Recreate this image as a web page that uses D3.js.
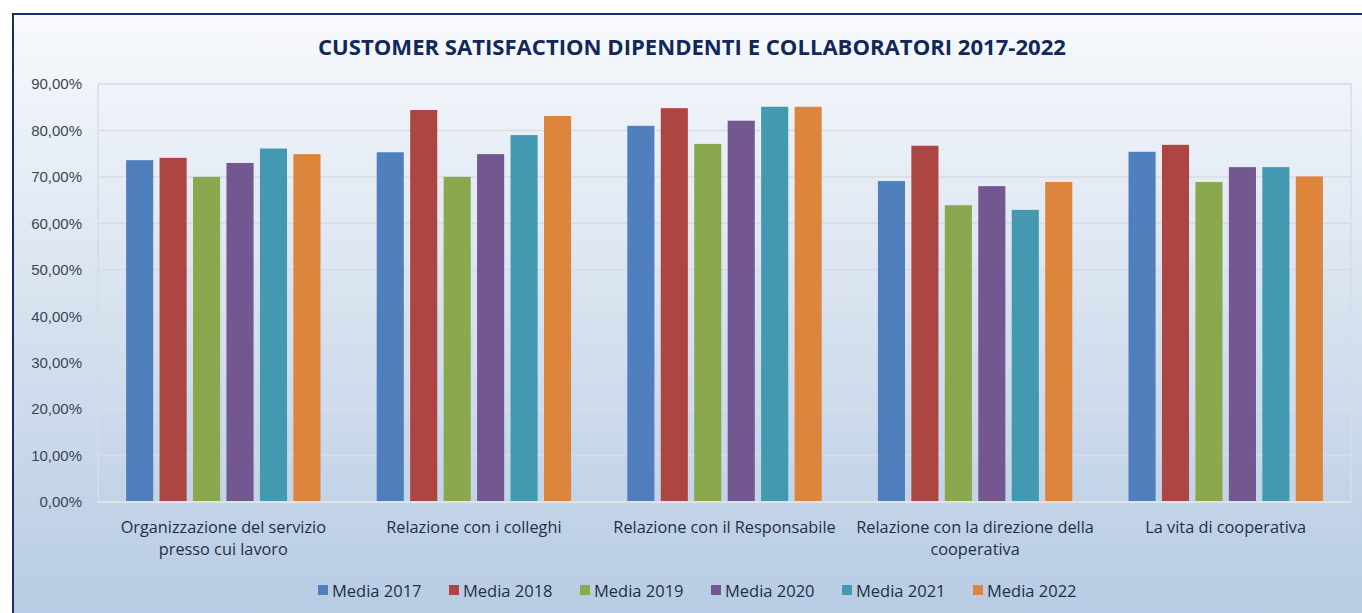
<!DOCTYPE html>
<html>
<head>
<meta charset="utf-8">
<script src="https://cdn.jsdelivr.net/npm/d3@7"></script>
<style>
  html, body { margin: 0; padding: 0; background: #fff; }
  svg { display: block; font-family: "Open Sans", "Noto Sans", sans-serif; }
  .grid line { stroke: #d9dde3; stroke-width: 1.5; }
  .ytick text { fill: #3b4655; font-size: 15px; }
  .xcat text { fill: #1f2f47; font-size: 16.3px; }
  .legend text { fill: #1f2f47; font-size: 16.5px; }
</style>
</head>
<body>
<svg id="chart" width="1362" height="613"></svg>
<script>
// data
var categories = [
    ["Organizzazione del servizio", "presso cui lavoro"],
    ["Relazione con i colleghi"],
    ["Relazione con il Responsabile"],
    ["Relazione con la direzione della", "cooperativa"],
    ["La vita di cooperativa"]
];
var seriesNames = ["Media 2017", "Media 2018", "Media 2019", "Media 2020", "Media 2021", "Media 2022"];
var media2017 = [0.736, 0.753, 0.810, 0.691, 0.754];
var media2018 = [0.741, 0.844, 0.848, 0.767, 0.769];
var media2019 = [0.700, 0.700, 0.771, 0.639, 0.689];
var media2020 = [0.730, 0.749, 0.821, 0.680, 0.721];
var media2021 = [0.761, 0.790, 0.851, 0.629, 0.721];
var media2022 = [0.749, 0.831, 0.851, 0.689, 0.701];
var seriesValues = [media2017, media2018, media2019, media2020, media2021, media2022];
var yTicks = [0, 0.1, 0.2, 0.3, 0.4, 0.5, 0.6, 0.7, 0.8, 0.9];
var colors = ["#4f7fbc", "#ad4643", "#8aa84d", "#735790", "#4299b0", "#dd843d"];

var svg = d3.select("#chart");
var plot = { left: 98, right: 1351, top: 84, bottom: 502 };

// background frame with vertical gradient
var defs = svg.append("defs");
var grad = defs.append("linearGradient").attr("id", "bg")
    .attr("x1", 0).attr("y1", 0).attr("x2", 0).attr("y2", 1);
grad.append("stop").attr("offset", "0%").attr("stop-color", "#f8fafd");
grad.append("stop").attr("offset", "45%").attr("stop-color", "#d9e3f0");
grad.append("stop").attr("offset", "100%").attr("stop-color", "#b5cae3");

svg.append("rect")
    .attr("x", 13).attr("y", 14)
    .attr("width", 1380).attr("height", 620)
    .attr("fill", "url(#bg)")
    .attr("stroke", "#1b2f63").attr("stroke-width", 2);

// title
svg.append("text")
    .attr("x", 692).attr("y", 55)
    .attr("text-anchor", "middle")
    .attr("font-weight", "bold")
    .attr("font-size", 22)
    .attr("fill", "#12285a")
    .attr("textLength", 748)
    .attr("lengthAdjust", "spacingAndGlyphs")
    .text("CUSTOMER SATISFACTION DIPENDENTI E COLLABORATORI 2017-2022");

// scales
var y = d3.scaleLinear().domain([0, 0.9]).range([plot.bottom, plot.top]);
var x0 = d3.scaleBand().domain(d3.range(categories.length)).range([plot.left, plot.right]);
var x1 = d3.scaleBand().domain(d3.range(seriesNames.length)).range([0, x0.bandwidth()])
    .paddingInner(0.19).paddingOuter(0.84);

var fmt = function (v) {
    return d3.format(".2f")(v * 100).replace(".", ",") + "%";
};

// gridlines
var grid = svg.append("g").attr("class", "grid");
grid.selectAll("line").data(yTicks.slice(1)).join("line")
    .attr("x1", plot.left).attr("x2", plot.right)
    .attr("y1", function (d) { return y(d); })
    .attr("y2", function (d) { return y(d); });
// plot area border
svg.append("rect")
    .attr("x", plot.left).attr("y", plot.top)
    .attr("width", plot.right - plot.left).attr("height", plot.bottom - plot.top)
    .attr("fill", "none").attr("stroke", "#d9dde3").attr("stroke-width", 1.5);

// y axis labels
var yAxis = d3.axisLeft(y).tickValues(yTicks).tickFormat(fmt).tickSize(0).tickPadding(16);
var yg = svg.append("g").attr("class", "ytick")
    .attr("transform", "translate(" + plot.left + ",0)")
    .call(yAxis);
yg.select(".domain").remove();
yg.selectAll("text").attr("font-family", null).attr("font-size", null);

// bars
var groups = svg.append("g").selectAll("g").data(categories).join("g")
    .attr("transform", function (d, i) { return "translate(" + x0(i) + ",0)"; });
groups.selectAll("rect")
    .data(function (d, i) {
        return seriesValues.map(function (s, j) { return { s: j, v: s[i] }; });
    })
    .join("rect")
    .attr("x", function (d) { return x1(d.s); })
    .attr("width", x1.bandwidth())
    .attr("y", function (d) { return y(d.v); })
    .attr("height", function (d) { return y(0) - y(d.v); })
    .attr("fill", function (d) { return colors[d.s]; });

// bottom axis line
svg.append("line")
    .attr("x1", plot.left).attr("x2", plot.right)
    .attr("y1", plot.bottom).attr("y2", plot.bottom)
    .attr("stroke", "#dfe3ea").attr("stroke-width", 2);

// category labels
var xcat = svg.append("g").attr("class", "xcat");
categories.forEach(function (lines, i) {
    var t = xcat.append("text")
        .attr("x", x0(i) + x0.bandwidth() / 2)
        .attr("y", 533)
        .attr("text-anchor", "middle");
    lines.forEach(function (line, k) {
        t.append("tspan")
            .attr("x", x0(i) + x0.bandwidth() / 2)
            .attr("dy", k === 0 ? 0 : 22)
            .text(line);
    });
});

// legend
var legendX = d3.scaleBand().domain(d3.range(seriesNames.length)).range([318, 1104]);
var legend = svg.append("g").attr("class", "legend");
var item = legend.selectAll("g").data(seriesNames).join("g")
    .attr("transform", function (d, i) { return "translate(" + legendX(i) + ",590)"; });
item.append("rect")
    .attr("x", 0).attr("y", -5)
    .attr("width", 10).attr("height", 10)
    .attr("fill", function (d, i) { return colors[i]; });
item.append("text")
    .attr("x", 14).attr("y", 0)
    .attr("dominant-baseline", "central")
    .text(function (d) { return d; });
</script>
</body>
</html>
